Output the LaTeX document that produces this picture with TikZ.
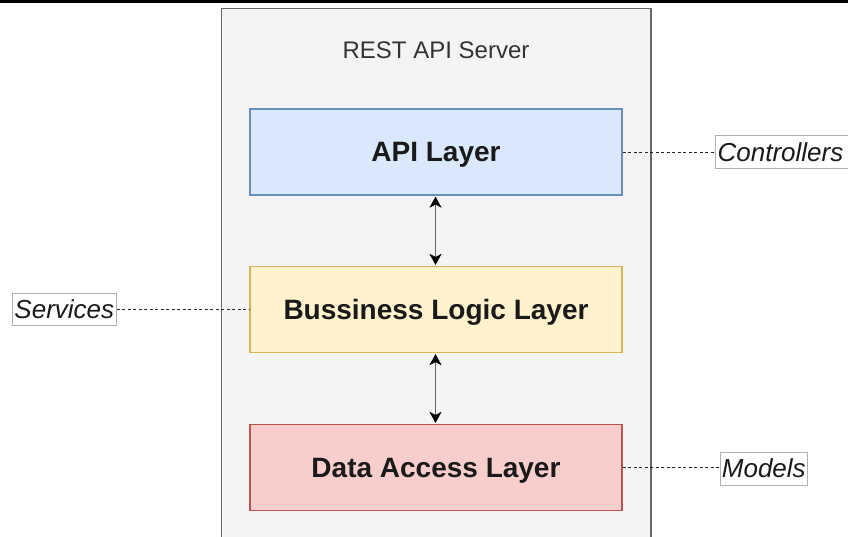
\documentclass[tikz,border=0pt]{standalone}
\usepackage{fontspec}
\setmainfont{Liberation Sans}
\usetikzlibrary{arrows.meta}

\definecolor{serverfill}{HTML}{F4F4F4}
\definecolor{serverline}{HTML}{666666}
\definecolor{apifill}{HTML}{DAE8FC}
\definecolor{apiline}{HTML}{6C8EBF}
\definecolor{logicfill}{HTML}{FFF2CC}
\definecolor{logicline}{HTML}{D6B656}
\definecolor{datafill}{HTML}{F8CECC}
\definecolor{dataline}{HTML}{B85450}
\definecolor{tagline}{HTML}{B0B0B0}
\definecolor{inktext}{HTML}{1A1A1A}

\tikzset{
  layer/.style={draw, line width=1.2pt, minimum width=372pt, minimum height=86pt,
    inner sep=0pt, text depth=0pt, font=\fontsize{28}{32}\selectfont\bfseries, text=inktext},
  tag/.style={draw=tagline, fill=white, line width=0.8pt, inner sep=0pt,
    minimum height=32.5pt, font=\fontsize{26}{30}\selectfont\itshape, text=inktext},
  leader/.style={draw=black!85, line width=1pt, dash pattern=on 3pt off 2.5pt},
  tip/.style={Stealth[length=11pt,width=12pt,inset=3pt,black]},
  flow/.style={draw=black!60, line width=1.5pt, {Stealth[length=11pt,width=12pt,inset=3pt,black]}-{Stealth[length=11pt,width=12pt,inset=3pt,black]},
    shorten <=1pt, shorten >=1pt}
}

\begin{document}
\begin{tikzpicture}[x=1pt,y=-1pt]
  \useasboundingbox (0,0) rectangle (848,536);
  \clip (0,0) rectangle (848,536);

  % rule along the top edge
  \draw[line width=3pt, black] (0,1.5) -- (848,1.5);

  % server container (continues below the frame)
  \node[draw=serverline, fill=serverfill, line width=1.5pt, inner sep=0pt,
        minimum width=429.5pt, minimum height=560pt] (server) at (436,288.5) {};
  \node[font=\fontsize{24}{28}\selectfont, text=black!80] (title) at (436,50.5) {REST API Server};

  % layers
  \node[layer, fill=apifill, draw=apiline] (api) at (436,152) {API Layer};
  \node[layer, fill=logicfill, draw=logicline] (logic) at (436,309.5) {Bussiness Logic Layer};
  \node[layer, fill=datafill, draw=dataline] (data) at (436,467.5) {Data Access Layer};

  % calls between layers
  \draw[flow] (api.south -| 435.5,0) -- (logic.north -| 435.5,0);
  \draw[flow] (logic.south -| 435.5,0) -- (data.north -| 435.5,0);

  % side annotations
  \node[tag, minimum width=134pt] (controllers) at (782,152) {\hspace*{-3pt}Controllers};
  \node[tag, minimum width=104.5pt] (services) at (64.3,309.5) {Services};
  \node[tag, minimum width=87pt] (models) at (763.8,468.7) {Models};

  \draw[leader] (api.east) -- (controllers.west);
  \draw[leader] (services.east) -- (logic.west);
  \draw[leader] (data.east) -- (models.west |- data.east);
\end{tikzpicture}
\end{document}
